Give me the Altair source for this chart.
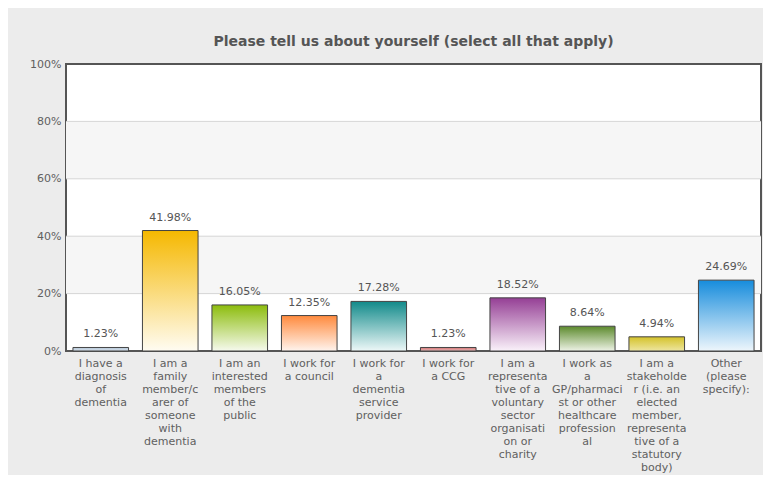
import altair as alt
import pandas as pd

categories = [
    "I have a|diagnosis|of|dementia",
    "I am a|family|member/c|arer of|someone|with|dementia",
    "I am an|interested|members|of the|public",
    "I work for|a council",
    "I work for|a|dementia|service|provider",
    "I work for|a CCG",
    "I am a|representa|tive of a|voluntary|sector|organisati|on or|charity",
    "I work as|a|GP/pharmaci|st or other|healthcare|profession|al",
    "I am a|stakeholde|r (i.e. an|elected|member,|representa|tive of a|statutory|body)",
    "Other|(please|specify):",
]
values = [1.23, 41.98, 16.05, 12.35, 17.28, 1.23, 18.52, 8.64, 4.94, 24.69]
top_colors = ["#b4c6d8", "#f5b800", "#8cbc0c", "#ff8a3d", "#118a8a",
              "#d27272", "#953f95", "#5c8a2c", "#d4c22a", "#168cdc"]
bottom_colors = ["#d8e2ec", "#fffcf2", "#f6faee", "#fff4ee", "#eef8f8",
                 "#ecbcbc", "#faf2fa", "#eef3e6", "#eee6a0", "#eef6fc"]
band_lo = [20, 60]
band_hi = [40, 80]
grid_vals = [20, 40, 60, 80]
y_ticks = [0, 20, 40, 60, 80, 100]

df = pd.DataFrame({"cat": categories, "val": values, "idx": list(range(len(categories)))})
df["lbl"] = [f"{v:.2f}%" for v in values]
bands = pd.DataFrame({"lo": band_lo, "hi": band_hi})
grid = pd.DataFrame({"g": grid_vals})

FONT = "DejaVu Sans"
TXT = "#555555"

yscale = alt.Scale(domain=[0, 100], nice=False)
yaxis = alt.Axis(values=y_ticks, labelExpr="datum.value + '%'", title=None, grid=False,
                 domain=False, ticks=False, labelPadding=5, labelFont=FONT,
                 labelFontSize=11, labelColor="#606060")
xscale = alt.Scale(paddingInner=0.2, paddingOuter=0.1)
xaxis = alt.Axis(title=None, labelAngle=0, domain=False, ticks=False,
                 labelExpr="split(datum.label, '|')", labelFont=FONT, labelFontSize=11,
                 labelColor="#606060", labelLineHeight=13, labelPadding=6,
                 labelBaseline="top", labelLimit=0)

band_layer = alt.Chart(bands).mark_rect(fill="#f6f6f6").encode(
    y=alt.Y("lo:Q", scale=yscale, axis=yaxis), y2="hi:Q")
grid_layer = alt.Chart(grid).mark_rule(color="#d6d6d6", strokeWidth=1).encode(
    y=alt.Y("g:Q", scale=yscale, axis=yaxis))

layers = [band_layer, grid_layer]
for i in range(len(categories)):
    grad = alt.LinearGradient(
        gradient="linear", x1=0, y1=0, x2=0, y2=1,
        stops=[alt.GradientStop(color=top_colors[i], offset=0),
               alt.GradientStop(color=bottom_colors[i], offset=1)])
    layers.append(
        alt.Chart(df).transform_filter(alt.datum.idx == i)
        .mark_bar(fill=grad, stroke="#444444", strokeWidth=1)
        .encode(x=alt.X("cat:N", sort=categories, scale=xscale, axis=xaxis),
                y=alt.Y("val:Q", scale=yscale, axis=yaxis))
    )

text_layer = alt.Chart(df).mark_text(dy=-8, baseline="bottom", font=FONT, fontSize=11,
                                     color=TXT).encode(
    x=alt.X("cat:N", sort=categories, scale=xscale, axis=xaxis),
    y=alt.Y("val:Q", scale=yscale, axis=yaxis),
    text="lbl:N")
layers.append(text_layer)

chart = alt.layer(*layers).properties(
    width=695, height=287,
    title=alt.Title("Please tell us about yourself (select all that apply)",
                    font=FONT, fontSize=14, fontWeight="bold", color=TXT, offset=9),
    autosize=alt.AutoSizeParams(type="none"),
    padding={"left": 58, "top": 56, "right": 2, "bottom": 124},
    background="#ececec",
).configure_view(stroke="#555555", strokeWidth=2, fill="white")

chart.save("out.html", embed_options={"renderer": "svg", "actions": False})
